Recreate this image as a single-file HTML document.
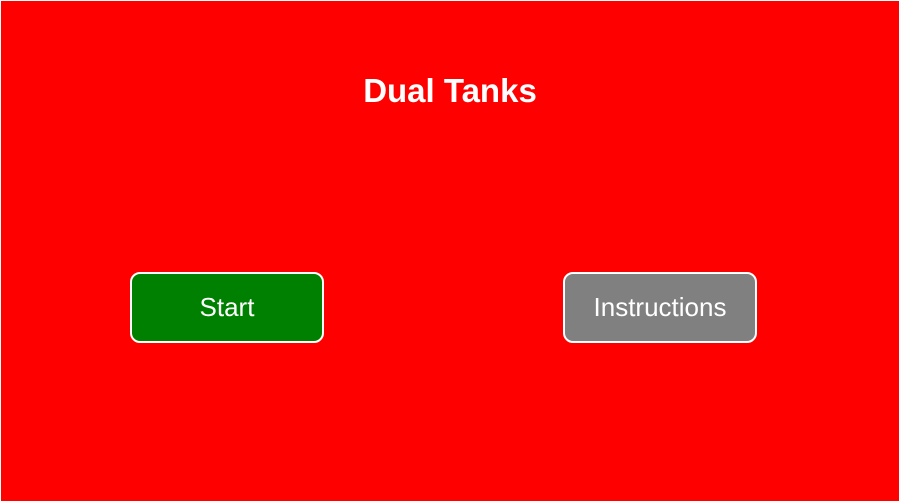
<!DOCTYPE html>
<html><head><style>
html,body{margin:0;padding:0}
body{width:900px;height:502px;position:relative;background:#fff;overflow:hidden}
#screen{position:absolute;left:1px;top:1px;width:898px;height:500px;background:#ff0000}
.title{position:absolute;left:0;width:900px;top:72px;text-align:center;font:bold 33px "Liberation Sans",sans-serif;color:#fff}
.btn{position:absolute;top:272px;width:190px;height:67px;border:2px solid #fff;border-radius:10px;color:#fff;font:26px "Liberation Sans",sans-serif;display:flex;align-items:center;justify-content:center}
</style></head><body>
<div id="screen"></div>
<div class="title">Dual Tanks</div>
<div class="btn" style="left:130px;background:#008000">Start</div>
<div class="btn" style="left:563px;background:#808080">Instructions</div>
</body></html>
